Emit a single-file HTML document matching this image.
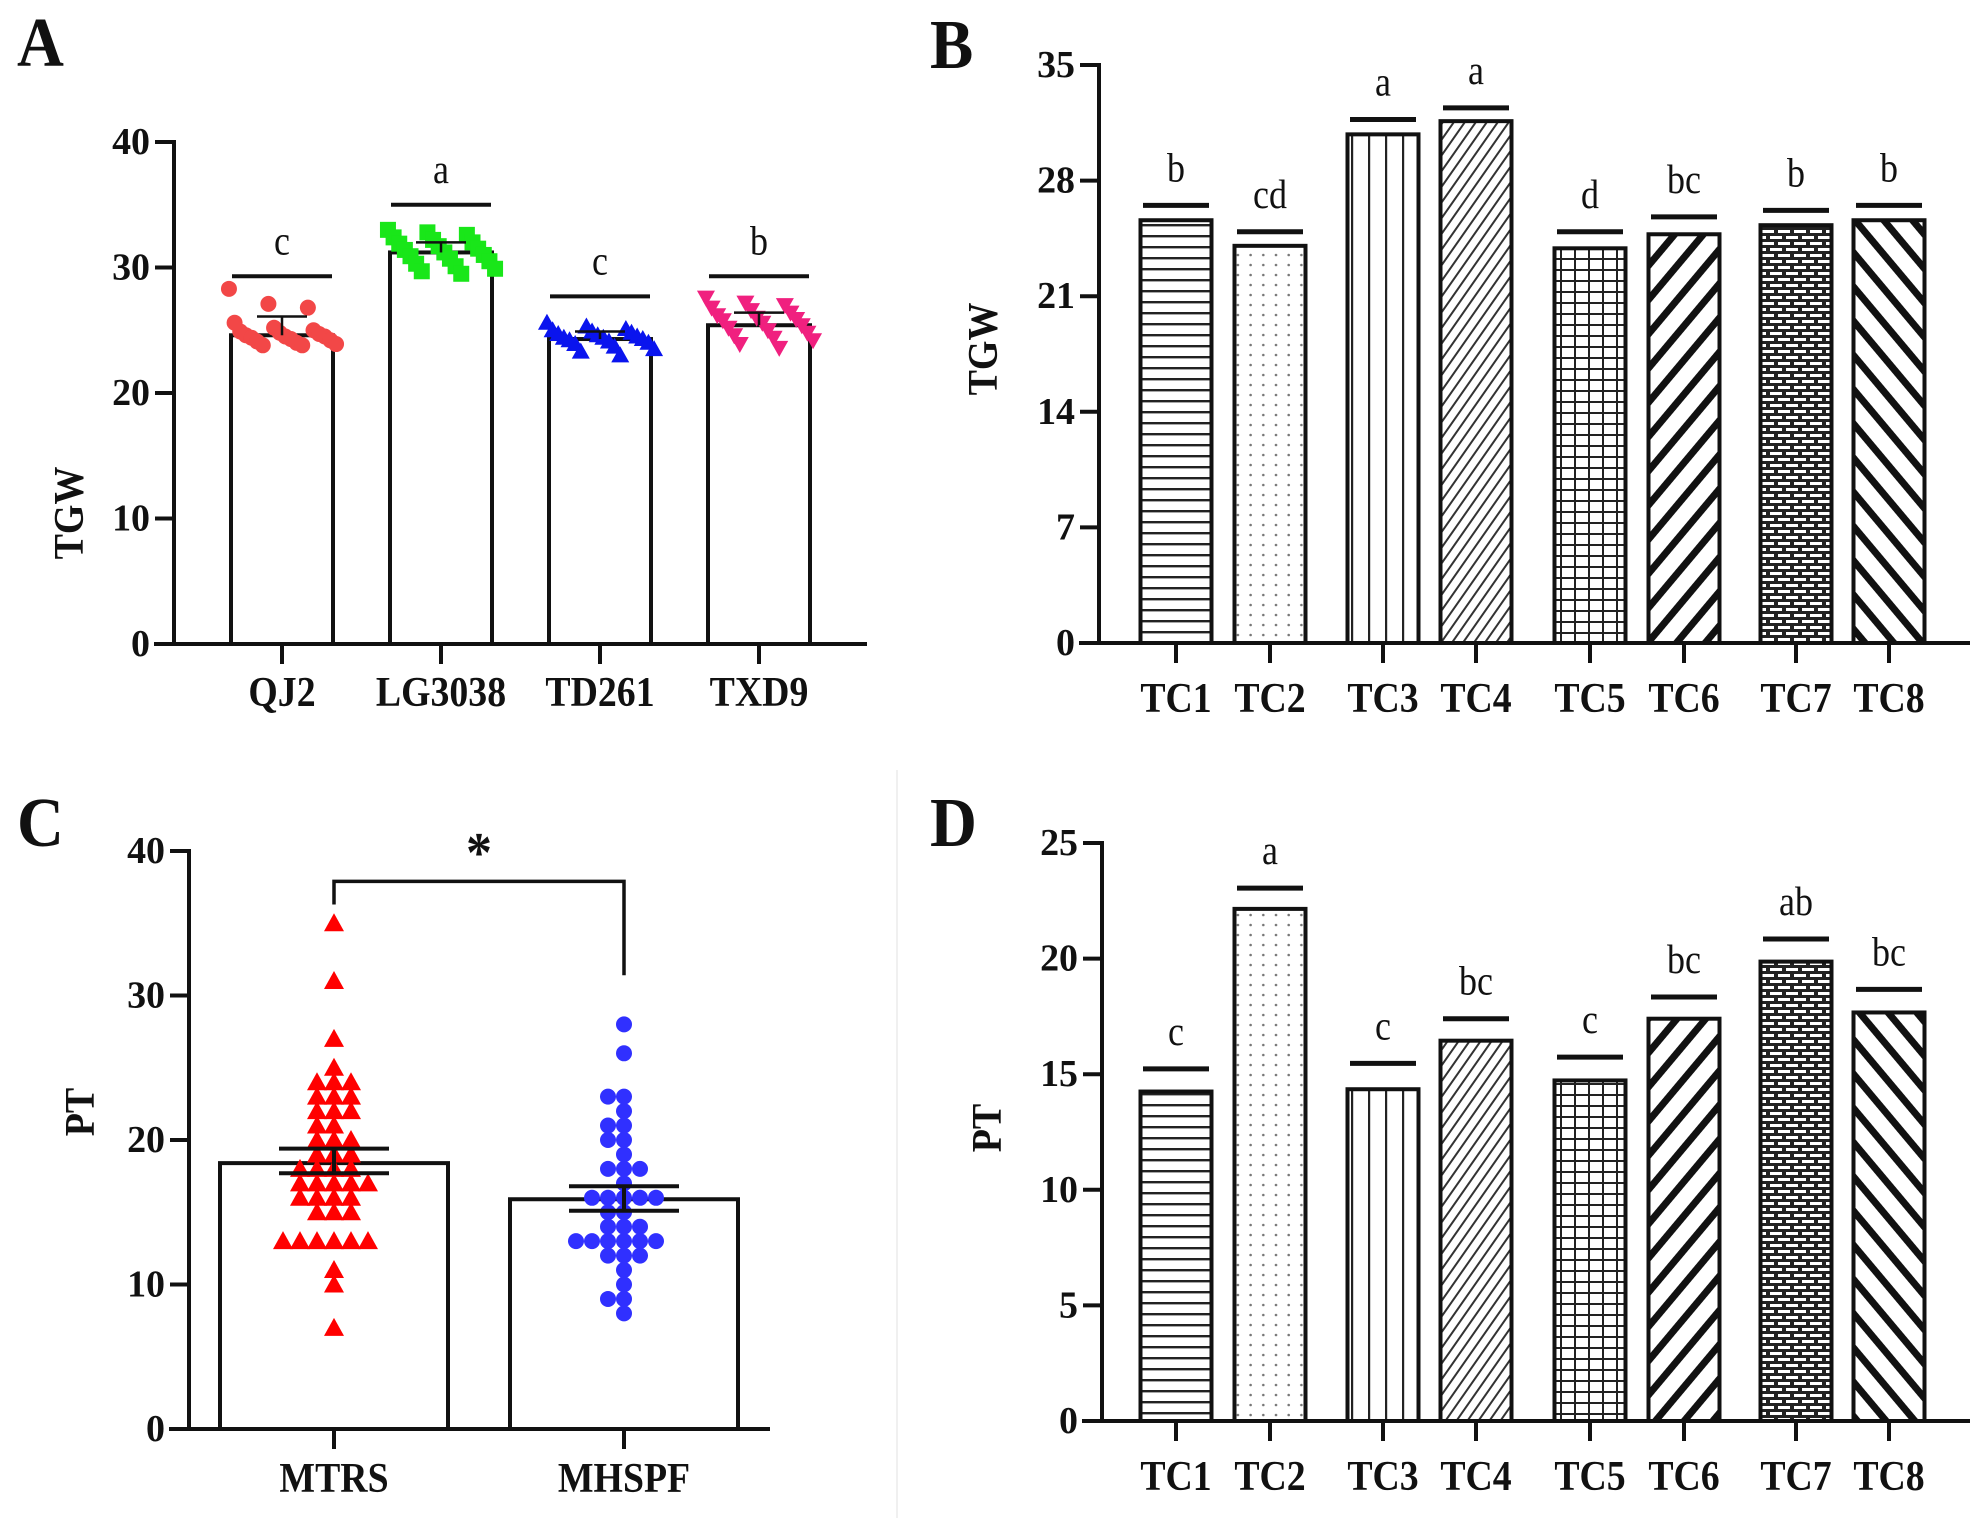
<!DOCTYPE html>
<html><head><meta charset="utf-8"><style>
html,body{margin:0;padding:0;background:#fff;}
svg{display:block;}
text{font-family:"Liberation Serif",serif;}
</style></head><body>
<svg id="fig" width="1988" height="1518" viewBox="0 0 1988 1518" xmlns="http://www.w3.org/2000/svg">
<defs>
<pattern id="p-hlines" patternUnits="userSpaceOnUse" width="10" height="11"><rect width="10" height="11" fill="#fff"/><rect y="4" width="10" height="2.4" fill="#222"/></pattern>
<pattern id="p-dots" patternUnits="userSpaceOnUse" width="12.7" height="10"><rect width="12.7" height="10" fill="#fff"/><circle cx="6" cy="5" r="1.3" fill="#777"/></pattern>
<pattern id="p-vlines" patternUnits="userSpaceOnUse" width="17" height="10"><rect width="17" height="10" fill="#fff"/><rect x="8" width="2.2" height="10" fill="#222"/></pattern>
<pattern id="p-thindiag" patternUnits="userSpaceOnUse" width="9" height="9" patternTransform="rotate(35)"><rect width="9" height="9" fill="#fff"/><rect width="2" height="9" fill="#333"/></pattern>
<pattern id="p-grid" patternUnits="userSpaceOnUse" width="14" height="11"><rect width="14" height="11" fill="#fff"/><rect x="6" width="2" height="11" fill="#222"/><rect y="5" width="14" height="2" fill="#222"/></pattern>
<pattern id="p-thickdiag" patternUnits="userSpaceOnUse" width="22" height="22" patternTransform="rotate(40)"><rect width="22" height="22" fill="#fff"/><rect width="7" height="22" fill="#111"/></pattern>
<pattern id="p-brick" patternUnits="userSpaceOnUse" width="16" height="12"><rect width="16" height="12" fill="#222"/><rect x="2" y="2" width="12" height="3" fill="#fff"/><rect x="-6" y="8" width="12" height="3" fill="#fff"/><rect x="10" y="8" width="12" height="3" fill="#fff"/></pattern>
<pattern id="p-thickdiag2" patternUnits="userSpaceOnUse" width="22" height="22" patternTransform="rotate(-40)"><rect width="22" height="22" fill="#fff"/><rect width="7" height="22" fill="#111"/></pattern>
</defs>
</svg>
<script>
// ---------- DATA ----------
const aCategories = ["QJ2","LG3038","TD261","TXD9"];
const aMeans = [24.6, 31.2, 24.3, 25.4];
const aSigLine = [29.3, 35.0, 27.7, 29.3];
const aSigLetters = ["c","a","c","b"];
const aErr = [1.5, 0.8, 0.6, 1.0];
const aPtsQJ2 = [28.3,27.1,26.8,25.6,25.2,25.0,24.9,24.8,24.7,24.6,24.5,24.5,24.4,24.3,24.2,24.1,24.0,23.9,23.8,23.8];
const aPtsLG = [33.0,32.8,32.6,32.4,32.2,32.0,31.9,31.7,31.5,31.4,31.2,31.0,30.9,30.7,30.5,30.3,30.1,29.9,29.7,29.5];
const aPtsTD = [25.6,25.3,25.1,25.0,24.9,24.8,24.7,24.6,24.5,24.4,24.4,24.3,24.2,24.1,24.0,23.9,23.7,23.5,23.3,23.0];
const aPtsTXD = [27.6,27.2,27.0,26.8,26.6,26.4,26.2,26.0,25.9,25.8,25.6,25.4,25.2,25.0,24.8,24.6,24.4,24.2,23.9,23.6];
const aTicks = [0,10,20,30,40];

const bCategories = ["TC1","TC2","TC3","TC4","TC5","TC6","TC7","TC8"];
const bValues = [25.6, 24.05, 30.8, 31.6, 23.9, 24.75, 25.3, 25.6];
const bSigLine = [26.5, 24.9, 31.7, 32.4, 24.9, 25.8, 26.2, 26.5];
const bSigLetters = ["b","cd","a","a","d","bc","b","b"];
const bTicks = [0,7,14,21,28,35];

const cCategories = ["MTRS","MHSPF"];
const cMeans = [18.4, 15.9];
const cSEMhi = [19.4, 16.8];
const cSEMlo = [17.7, 15.1];
const cPtsMTRS = [35,31,27,25,24,24,24,23,23,23,22,22,22,21,21,20,20,20,19,19,19,18,18,18,18,17,17,17,17,17,16,16,16,16,15,15,15,13,13,13,13,13,13,11,10,7];
const cPtsMHSPF = [28,26,23,23,22,21,21,20,20,19,18,18,18,17,16,16,16,16,16,15,15,14,14,14,13,13,13,13,13,13,12,12,12,11,10,9,9,8];
const cBracket = [37.9, 36.3, 31.4];
const cTicks = [0,10,20,30,40];

const dCategories = ["TC1","TC2","TC3","TC4","TC5","TC6","TC7","TC8"];
const dValues = [14.25, 22.15, 14.35, 16.45, 14.73, 17.4, 19.87, 17.67];
const dSigLine = [15.23, 23.05, 15.47, 17.4, 15.74, 18.34, 20.85, 18.67];
const dSigLetters = ["c","a","c","bc","c","bc","ab","bc"];
const dTicks = [0,5,10,15,20,25];

const patterns = ["p-hlines","p-dots","p-vlines","p-thindiag","p-grid","p-thickdiag","p-brick","p-thickdiag2"];
const tcCenters = [1176,1270,1383,1476,1590,1684,1796,1889];

// ---------- HELPERS ----------
const svg = document.getElementById('fig');
const NS = 'http://www.w3.org/2000/svg';
function mk(tag, attrs, parent){
  const e = document.createElementNS(NS, tag);
  for (const k in attrs) e.setAttribute(k, attrs[k]);
  (parent||svg).appendChild(e);
  return e;
}
function txt(parent, x, y, s, size, anchor, weight, sy, rot, sx){
  const t = mk('text', {x:0, y:0, 'font-size':size, 'text-anchor':anchor||'middle', 'font-weight':weight||'bold', fill:'#111',
    transform:'translate('+x+','+y+')'+(rot?' rotate('+rot+')':'')+' scale('+(sx||1)+','+(sy||1.15)+')'}, parent);
  t.textContent = s;
  return t;
}
function line(parent, x1,y1,x2,y2,w){ return mk('line',{x1:x1,y1:y1,x2:x2,y2:y2,stroke:'#111','stroke-width':w||4},parent); }
function yScale(v0y, vTopY, vmax){ return v => v0y - v/vmax*(v0y - vTopY); }

function axes(g, x0, yS, ticks, xEnd, centers, cats, labelY, name){
  const y0 = yS(0);
  const ax = mk('g',{},g);
  
  
  line(ax, x0, yS(ticks[ticks.length-1])-2, x0, y0+2, 4);
  ticks.forEach(t=>{
    const y = yS(t);
    line(ax, x0-19, y, x0, y, 4);
    const tl = txt(ax, x0-24, y+12, String(t), 33, 'end', 'bold', 1.15, 0, 1.15);
    
    
  });
  const xa = mk('g',{},g);
  
  
  line(xa, x0-20, y0, xEnd, y0, 4);
  centers.forEach((c,i)=>{
    line(xa, c, y0, c, y0+20, 4);
    const cl = txt(xa, c, labelY, cats[i], 36, 'middle', 'bold', 1.17, 0, 1.05);
    
    
  });
}

function panelLetter(x,y,s){
  const t = txt(svg, x, y, s, 58, 'start', 'bold', 1.2, 0, 1.12);
  
  
}
function yTitle(x,y,s,name){
  const t = txt(svg, x, y, s, 38, 'middle', 'bold', 1.1, -90);
  
  
}

function swarmOffsets(vals, step, maxPerRow){
  const offs = [];
  const counts = {};
  vals.forEach(v=>{
    const key = Math.round(v*2)/2;
    const n = counts[key] || 0;
    counts[key] = n+1;
    const k = n % maxPerRow;
    const sign = k%2===0 ? 1 : -1;
    offs.push(sign*Math.ceil(k/2)*step);
  });
  return offs;
}

// ---------- PANEL A ----------
(function(){
  const g = mk('g',{});
  
  
  const x0=174, yS=yScale(644,142,40);
  const centers=[282,441,600,759], bw=102;
  const colors=['#f24747','#19e619','#0a14ee','#f0207f'];
  const pts=[aPtsQJ2,aPtsLG,aPtsTD,aPtsTXD];
  aMeans.forEach((m,i)=>{
    const r = mk('rect',{x:centers[i]-bw/2,y:yS(m),width:bw,height:yS(0)-yS(m),fill:'#fff',stroke:'#111','stroke-width':4},g);
    
    
  });
  pts.forEach((arr,i)=>{
    const pg = mk('g',{},g);
    
    
    const n = arr.length;
    arr.forEach((v,j)=>{
      const ox = ((j*7)%n)/(n-1)*bw*1.05 - bw*0.52;
      const cx = centers[i]+ox, cy = yS(v);
      let p;
      if(i===0) p = mk('circle',{cx:cx,cy:cy,r:8,fill:colors[i]},pg);
      else if(i===1) p = mk('rect',{x:cx-8,y:cy-8,width:16,height:16,fill:colors[i]},pg);
      else if(i===2) p = mk('polygon',{points:(cx)+','+(cy-9)+' '+(cx-9)+','+(cy+7)+' '+(cx+9)+','+(cy+7),fill:colors[i]},pg);
      else p = mk('polygon',{points:(cx)+','+(cy+9)+' '+(cx-9)+','+(cy-7)+' '+(cx+9)+','+(cy-7),fill:colors[i]},pg);
      
      
    });
    const eg = mk('g',{},g);
    
    
    line(eg, centers[i]-25, yS(aMeans[i]+aErr[i]), centers[i]+25, yS(aMeans[i]+aErr[i]), 2.5);
    line(eg, centers[i], yS(aMeans[i]+aErr[i]), centers[i], yS(aMeans[i]), 2.5);
  });
  aSigLine.forEach((v,i)=>{
    const l = line(g, centers[i]-50, yS(v), centers[i]+50, yS(v), 4);
    
    
    const t = txt(g, centers[i], yS(v)-22, aSigLetters[i], 36, 'middle', 'normal', 1.15);
    
    
  });
  axes(g, x0, yS, aTicks, 867, centers, aCategories, 706, 'panel-a');
})();

// ---------- BAR PANELS B & D ----------
function tcPanel(name, x0, y0, yTop, vmax, vals, sig, letters, ticks, cats, labelY){
  const g = mk('g',{});
  
  
  const yS = yScale(y0, yTop, vmax);
  const bw = 71;
  vals.forEach((v,i)=>{
    const r = mk('rect',{x:tcCenters[i]-bw/2,y:yS(v),width:bw,height:yS(0)-yS(v),fill:'url(#'+patterns[i]+')',stroke:'#111','stroke-width':4},g);
    
    
  });
  sig.forEach((v,i)=>{
    const l = line(g, tcCenters[i]-33, yS(v), tcCenters[i]+33, yS(v), 5);
    
    
    const t = txt(g, tcCenters[i], yS(v)-24, letters[i], 36, 'middle', 'normal', 1.15);
    
    
  });
  axes(g, x0, yS, ticks, 1970, tcCenters, cats, labelY, name);
}
tcPanel('panel-b', 1099, 643, 65, 35, bValues, bSigLine, bSigLetters, bTicks, bCategories, 712);
tcPanel('panel-d', 1102, 1421, 843, 25, dValues, dSigLine, dSigLetters, dTicks, dCategories, 1490);

// ---------- PANEL C ----------
(function(){
  const g = mk('g',{});
  
  
  const x0=189, yS=yScale(1429,851,40);
  const centers=[334,624], bw=228;
  cMeans.forEach((m,i)=>{
    const r = mk('rect',{x:centers[i]-bw/2,y:yS(m),width:bw,height:yS(0)-yS(m),fill:'#fff',stroke:'#111','stroke-width':4},g);
    
    
  });
  const pgA = mk('g',{},g);
  
  
  const offA = swarmOffsets(cPtsMTRS, 17, 7);
  cPtsMTRS.forEach((v,j)=>{
    const cx=centers[0]+offA[j], cy=yS(v);
    const p = mk('polygon',{points:cx+','+(cy-10)+' '+(cx-10)+','+(cy+8)+' '+(cx+10)+','+(cy+8),fill:'#ff0000'},pgA);
    
    
  });
  const pgB = mk('g',{},g);
  
  
  const offB = swarmOffsets(cPtsMHSPF, 16, 7);
  cPtsMHSPF.forEach((v,j)=>{
    const p = mk('circle',{cx:centers[1]+offB[j],cy:yS(v),r:8,fill:'#3030ff'},pgB);
    
    
  });
  cMeans.forEach((m,i)=>{
    const eg = mk('g',{},g);
    
    
    line(eg, centers[i]-55, yS(cSEMhi[i]), centers[i]+55, yS(cSEMhi[i]), 4);
    line(eg, centers[i]-55, yS(cSEMlo[i]), centers[i]+55, yS(cSEMlo[i]), 4);
    line(eg, centers[i], yS(cSEMhi[i]), centers[i], yS(cSEMlo[i]), 4);
  });
  const br = mk('polyline',{points:centers[0]+','+yS(cBracket[1])+' '+centers[0]+','+yS(cBracket[0])+' '+centers[1]+','+yS(cBracket[0])+' '+centers[1]+','+yS(cBracket[2]),fill:'none',stroke:'#111','stroke-width':3.5},g);
  
  
  const st = txt(g, (centers[0]+centers[1])/2, yS(cBracket[0])-10, '*', 52, 'middle', 'bold', 1.1);
  
  
  axes(g, x0, yS, cTicks, 770, centers, cCategories, 1492, 'panel-c');
})();

const sep = mk('line',{x1:897,y1:770,x2:897,y2:1518,stroke:'#f0f0f0','stroke-width':2});



panelLetter(17,66,'A');
panelLetter(930,68,'B');
panelLetter(17,846,'C');
panelLetter(930,846,'D');
yTitle(83,513,'TGW','panel-a-y-title');
yTitle(997,349,'TGW','panel-b-y-title');
yTitle(94,1112,'PT','panel-c-y-title');
yTitle(1001,1128,'PT','panel-d-y-title');
</script>
</body></html>
